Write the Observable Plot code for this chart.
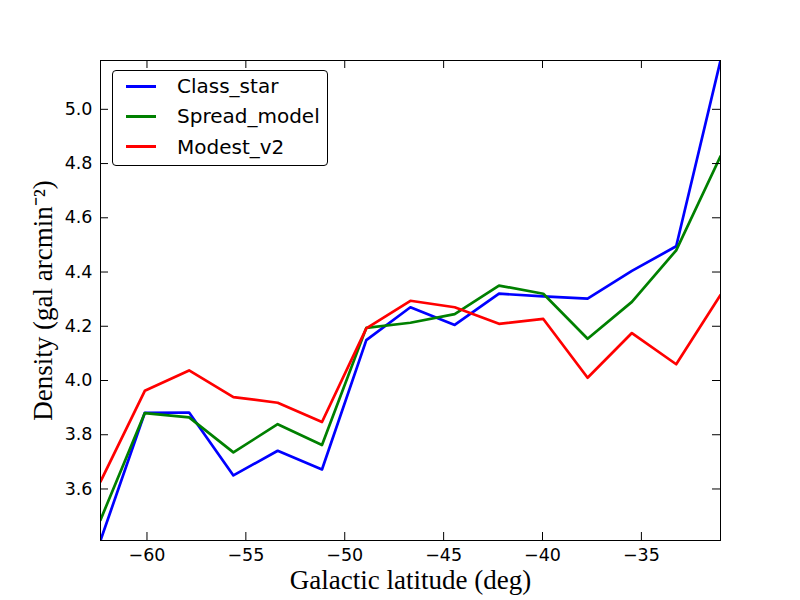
<!DOCTYPE html>
<html>
<head>
<meta charset="utf-8">
<script src="https://cdn.jsdelivr.net/npm/d3@7"></script>
<script src="https://cdn.jsdelivr.net/npm/@observablehq/plot@0.6"></script>
<style>
  html, body { margin: 0; padding: 0; background: #fff; }
  #wrap { position: relative; width: 800px; height: 600px; }
  #legend {
    position: absolute; left: 112px; top: 70px; width: 216px; height: 96px;
    border: 1px solid #000; border-radius: 4px; background: #fff; box-sizing: border-box;
    font-family: "DejaVu Sans", sans-serif; font-size: 20px; color: #000;
  }
  .row { position: absolute; left: 0; height: 30px; }
  .sw { position: absolute; left: 13px; width: 30px; height: 3px; }
  .lb { position: absolute; left: 64px; white-space: nowrap; line-height: 30px; top: -15px; }
</style>
</head>
<body>
<div id="wrap"></div>
<script>
const latitude = [-62.35, -60.11, -57.87, -55.63, -53.39, -51.15, -48.91, -46.68, -44.44, -42.20, -39.96, -37.72, -35.48, -33.24, -31.00];
const classStar   = [3.41, 3.881, 3.882, 3.650, 3.741, 3.672, 4.149, 4.270, 4.205, 4.320, 4.310, 4.302, 4.404, 4.495, 5.18];
const spreadModel = [3.486, 3.880, 3.864, 3.735, 3.839, 3.762, 4.194, 4.213, 4.245, 4.350, 4.320, 4.154, 4.290, 4.480, 4.827];
const modestV2    = [3.627, 3.962, 4.037, 3.939, 3.918, 3.847, 4.192, 4.294, 4.270, 4.209, 4.227, 4.010, 4.175, 4.060, 4.315];
const seriesNames = ["Class_star", "Spread_model", "Modest_v2"];
const seriesColors = ["#0000ff", "#008000", "#ff0000"];
const xTicks = [-60, -55, -50, -45, -40, -35];
const yTicks = [3.6, 3.8, 4.0, 4.2, 4.4, 4.6, 4.8, 5.0];
const xLabel = "Galactic latitude (deg)";
const yLabel = "Density (gal arcmin\u207B\u00B2)";

const allSeries = [classStar, spreadModel, modestV2];
const rows = [];
allSeries.forEach((vals, s) => vals.forEach((v, i) => rows.push({x: latitude[i], y: v, series: seriesNames[s]})));

const allY = [...classStar, ...spreadModel, ...modestV2];
const tickFont = "DejaVu Sans";
const labelFont = "Liberation Serif";

const chart = Plot.plot({
  width: 800,
  height: 600,
  marginLeft: 100,
  marginRight: 80,
  marginTop: 60,
  marginBottom: 60,
  style: {fontFamily: tickFont, fontSize: "17.5px", color: "#000", background: "#fff"},
  x: {domain: d3.extent(latitude)},
  y: {domain: d3.extent(allY)},
  color: {domain: seriesNames, range: seriesColors},
  marks: [
    Plot.lineY(rows, {x: "x", y: "y", z: "series", stroke: "series", strokeWidth: 2.7, clip: true}),
    // inward ticks on all four sides
    Plot.ruleX(xTicks, {stroke: "#000", strokeWidth: 1, insetTop: 472}),
    Plot.ruleX(xTicks, {stroke: "#000", strokeWidth: 1, insetBottom: 472}),
    Plot.ruleY(yTicks, {stroke: "#000", strokeWidth: 1, insetRight: 612}),
    Plot.ruleY(yTicks, {stroke: "#000", strokeWidth: 1, insetLeft: 612}),
    Plot.axisX({ticks: xTicks, tickSize: 0, tickPadding: 8, tickFormat: d => d3.format("")(d).replace("-", "\u2212"), fontSize: 17.5, label: null}),
    Plot.axisY({ticks: yTicks, tickSize: 0, tickPadding: 8, tickFormat: d3.format(".1f"), fontSize: 17.5, label: null}),
    Plot.frame({stroke: "#000", strokeWidth: 1}),
    Plot.text([xLabel], {frameAnchor: "bottom", dy: 48, fontFamily: labelFont, fontSize: 27, fill: "#000"}),
    Plot.text([yLabel], {frameAnchor: "left", dx: -57, rotate: -90, textAnchor: "middle", fontFamily: labelFont, fontSize: 27, fill: "#000"})
  ]
});

const wrap = document.getElementById("wrap");
wrap.appendChild(chart);

const legend = document.createElement("div");
legend.id = "legend";
seriesNames.forEach((name, i) => {
  const row = document.createElement("div");
  row.className = "row";
  row.style.top = (15 + i * 30.3) + "px";
  const sw = document.createElement("div");
  sw.className = "sw";
  sw.style.background = seriesColors[i];
  sw.style.top = "-1.5px";
  const lb = document.createElement("div");
  lb.className = "lb";
  lb.textContent = name;
  row.appendChild(sw);
  row.appendChild(lb);
  legend.appendChild(row);
});
wrap.appendChild(legend);
</script>
</body>
</html>
